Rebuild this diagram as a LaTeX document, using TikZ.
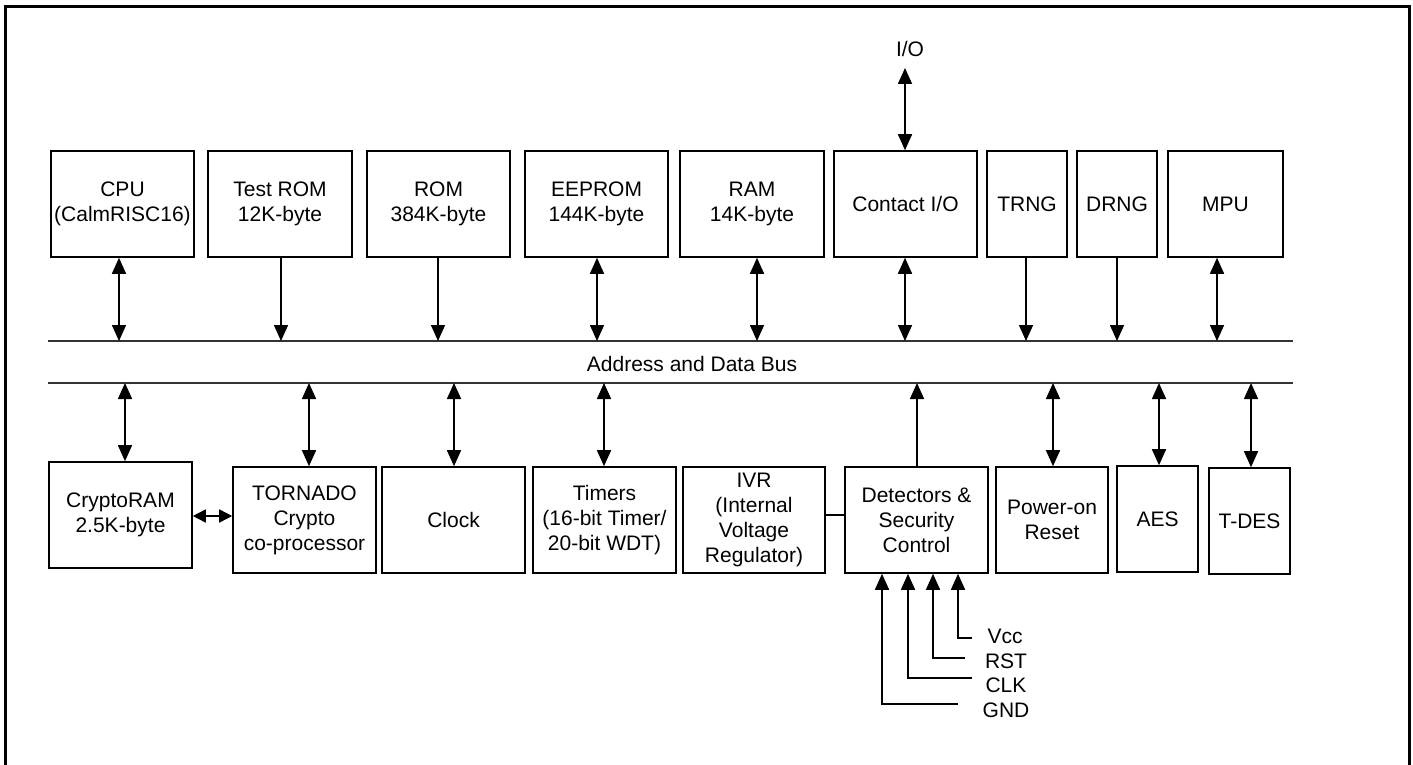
\documentclass[tikz,border=0pt]{standalone}
\usepackage{fontspec}
\setmainfont{Liberation Sans}
\usetikzlibrary{arrows.meta}
\tikzset{
  blk/.style={draw=black, line width=1.6pt, inner sep=0pt, align=center,
    font=\fontsize{21}{25}\selectfont},
  lbl/.style={inner sep=0pt, anchor=base, font=\fontsize{21}{25}\selectfont},
  con/.style={line width=1.6pt, draw=black},
  tip/.style={-{Triangle[length=16pt,width=14pt]}},
  bitip/.style={{Triangle[length=16pt,width=14pt]}-{Triangle[length=16pt,width=14pt]}},
  smalltip/.style={{Triangle[length=13pt,width=13pt]}-{Triangle[length=13pt,width=13pt]}},
  bus/.style={line width=2pt, draw=black!80},
}
\begin{document}
\begin{tikzpicture}[x=1pt,y=-1pt]
\useasboundingbox (0,0) rectangle (1413,765);
% frame
\draw[line width=3pt] (5.5,780) -- (5.5,7) -- (1409,7) -- (1409,780);

% bus lines
\coordinate (bt1) at (48,341);
\coordinate (bt2) at (1293,341);
\coordinate (bb1) at (48,383);
\coordinate (bb2) at (1293,383);
\draw[bus] (bt1) -- (bt2);
\draw[bus] (bb1) -- (bb2);
\node[lbl] (busl) at (692,371) {Address and Data Bus};

% top row
\node[blk, minimum width=143pt, minimum height=106pt] (cpu) at (122.5,204) {CPU\\(CalmRISC16)};
\node[blk, minimum width=144pt, minimum height=106pt] (trom) at (280,204) {Test ROM\\12K-byte};
\node[blk, minimum width=143pt, minimum height=106pt] (rom) at (438.5,204) {ROM\\384K-byte};
\node[blk, minimum width=143pt, minimum height=106pt] (eep) at (596.5,204) {EEPROM\\144K-byte};
\node[blk, minimum width=144pt, minimum height=106pt] (ram) at (752,204) {RAM\\14K-byte};
\node[blk, minimum width=143pt, minimum height=106pt] (cio) at (905.5,204) {Contact I/O};
\node[blk, minimum width=80pt, minimum height=106pt] (trng) at (1027,204) {TRNG};
\node[blk, minimum width=80pt, minimum height=106pt] (drng) at (1117,204) {DRNG};
\node[blk, minimum width=115pt, minimum height=106pt] (mpu) at (1225.5,204) {MPU};

% I/O
\node[lbl] (io) at (910,57) {I/O};
\coordinate (ioE) at (905,68);
\draw[con, bitip] (ioE) -- (cio.north -| ioE);

% top arrow x positions
\coordinate (x1) at (119,0);
\coordinate (x2) at (281,0);
\coordinate (x3) at (438,0);
\coordinate (x4) at (597,0);
\coordinate (x5) at (757,0);
\coordinate (x6) at (905,0);
\coordinate (x7) at (1026,0);
\coordinate (x8) at (1117,0);
\coordinate (x9) at (1217,0);
\draw[con, bitip] (cpu.south -| x1) -- (bt1 -| x1);
\draw[con, tip] (trom.south -| x2) -- (bt1 -| x2);
\draw[con, tip] (rom.south -| x3) -- (bt1 -| x3);
\draw[con, bitip] (eep.south -| x4) -- (bt1 -| x4);
\draw[con, bitip] (ram.south -| x5) -- (bt1 -| x5);
\draw[con, bitip] (cio.south -| x6) -- (bt1 -| x6);
\draw[con, tip] (trng.south -| x7) -- (bt1 -| x7);
\draw[con, tip] (drng.south -| x8) -- (bt1 -| x8);
\draw[con, bitip] (mpu.south -| x9) -- (bt1 -| x9);

% bottom row
\node[blk, minimum width=143pt, minimum height=106pt] (cram) at (120.5,515) {CryptoRAM\\2.5K-byte};
\node[blk, minimum width=143pt, minimum height=106pt] (torn) at (304.5,520) {TORNADO\\Crypto\\co-processor};
\node[blk, minimum width=143pt, minimum height=106pt] (clk) at (453.5,520) {Clock};
\node[blk, minimum width=143pt, minimum height=106pt] (tim) at (604.5,520) {Timers\\(16-bit Timer/\\20-bit WDT)};
\node[blk, minimum width=142pt, minimum height=106pt] (ivr) at (754,520) {IVR\\(Internal\\Voltage\\Regulator)};
\node[blk, minimum width=143pt, minimum height=106pt] (det) at (916.5,520) {Detectors \&\\Security\\Control};
\node[blk, minimum width=112pt, minimum height=106pt] (por) at (1052,520) {Power-on\\Reset};
\node[blk, minimum width=81pt, minimum height=106pt] (aes) at (1157.5,519) {AES};
\node[blk, minimum width=81pt, minimum height=106pt] (tdes) at (1249.5,521) {T-DES};

\coordinate (y1) at (125,0);
\coordinate (y2) at (309,0);
\coordinate (y3) at (454,0);
\coordinate (y4) at (604,0);
\coordinate (y5) at (917,0);
\coordinate (y6) at (1053,0);
\coordinate (y7) at (1159,0);
\coordinate (y8) at (1251,0);
\draw[con, bitip] (cram.north -| y1) -- (bb1 -| y1);
\draw[con, bitip] (torn.north -| y2) -- (bb1 -| y2);
\draw[con, bitip] (clk.north -| y3) -- (bb1 -| y3);
\draw[con, bitip] (tim.north -| y4) -- (bb1 -| y4);
\draw[con, tip] (det.north -| y5) -- (bb1 -| y5);
\draw[con, bitip] (por.north -| y6) -- (bb1 -| y6);
\draw[con, bitip] (aes.north -| y7) -- (bb1 -| y7);
\draw[con, bitip] (tdes.north -| y8) -- (bb1 -| y8);

\draw[con, smalltip] (cram.east |- 0,516) -- (torn.west |- 0,516);
\draw[con] (ivr.east |- 0,515) -- (det.west |- 0,515);

% detector inputs
\coordinate (dG) at (882,0);
\coordinate (dC) at (908,0);
\coordinate (dR) at (933,0);
\coordinate (dV) at (958,0);
\coordinate (eV) at (972,638);
\coordinate (eR) at (965,658);
\coordinate (eC) at (972,678);
\coordinate (eG) at (958,704);
\draw[con, tip] (eV) -| (det.south -| dV);
\draw[con, tip] (eR) -| (det.south -| dR);
\draw[con, tip] (eC) -| (det.south -| dC);
\draw[con, tip] (eG) -| (det.south -| dG);
\node[lbl] (vcc) at (1005,643) {Vcc};
\node[lbl] (rst) at (1006,668) {RST};
\node[lbl] (clkl) at (1006,692) {CLK};
\node[lbl] (gnd) at (1006,717) {GND};
\end{tikzpicture}
\end{document}
